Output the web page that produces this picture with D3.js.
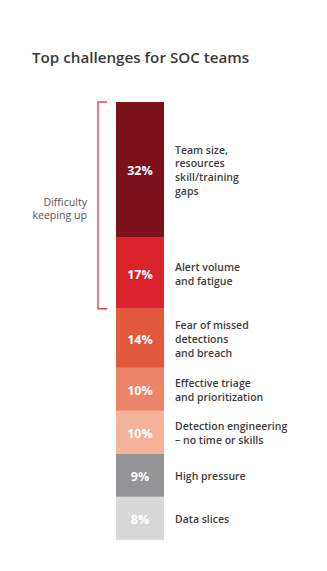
<!DOCTYPE html>
<html>
<head>
<meta charset="utf-8">
<script src="https://cdn.jsdelivr.net/npm/d3@7/dist/d3.min.js"></script>
<style>
  html, body { margin: 0; padding: 0; background: #fff; }
  svg { display: block; }
  text { font-family: "Open Sans", "Noto Sans", sans-serif; }
</style>
</head>
<body>
<svg id="chart" width="327" height="571"></svg>
<script>
// Share of respondents naming each challenge (percent)
const categories = [
  ["Team size,", "resources", "skill/training", "gaps"],
  ["Alert volume", "and fatigue"],
  ["Fear of missed", "detections", "and breach"],
  ["Effective triage", "and prioritization"],
  ["Detection engineering", "\u2013 no time or skills"],
  ["High pressure"],
  ["Data slices"]
];
const values = [32, 17, 14, 10, 10, 9, 8];
const colors = ["#7b1119", "#d9222c", "#e1583b", "#ec8567", "#f4b29a", "#959597", "#d8d8d8"];
const groupLabel = ["Difficulty", "keeping up"];
const groupSpan = [0, 1]; // first and last segment covered by the bracket
const title = "Top challenges for SOC teams";

const svg = d3.select("#chart");
const barX = 116, barW = 48, barTop = 102;
const minSeg = 43; // smallest segment keeps room for its label

// Segment length scale; tiny shares get a floor so their text fits
const len = d3.scaleLinear().domain([0, 1]).range([0, 4.22]);
const segH = values.map(v => Math.max(len(v), minSeg));
const y0 = [];
segH.reduce((acc, h, i) => { y0[i] = acc; return acc + h; }, barTop);

svg.append("text")
  .attr("x", 32).attr("y", 63)
  .attr("font-size", 15.2).attr("font-weight", 600)
  .attr("fill", "#3a3a3a")
  .text(title);

const seg = svg.append("g").selectAll("g")
  .data(values).join("g");

seg.append("rect")
  .attr("x", barX).attr("width", barW)
  .attr("y", (d, i) => y0[i])
  .attr("height", (d, i) => segH[i])
  .attr("fill", (d, i) => colors[i]);

seg.append("text")
  .attr("x", barX + barW / 2)
  .attr("y", (d, i) => y0[i] + segH[i] / 2 + 2.5)
  .attr("text-anchor", "middle")
  .attr("dominant-baseline", "middle")
  .attr("font-size", 12.5).attr("font-weight", 700)
  .attr("fill", "#fff")
  .text(d => d + "%");

const lineH = 13.8;
seg.append("text")
  .attr("font-size", 10.5).attr("font-weight", 600)
  .attr("fill", "#3d3d3d")
  .each(function(d, i) {
    const lines = categories[i];
    const cy = y0[i] + segH[i] / 2 + 2;
    d3.select(this).selectAll("tspan")
      .data(lines).join("tspan")
      .attr("x", 175)
      .attr("y", (t, j) => cy + (j - (lines.length - 1) / 2) * lineH)
      .attr("dominant-baseline", "middle")
      .text(t => t);
  });

// Bracket grouping the top segments
const bTop = y0[groupSpan[0]];
const bBot = y0[groupSpan[1]] + segH[groupSpan[1]];
const bx = 98;
svg.append("path")
  .attr("d", `M${bx + 9},${bTop} H${bx} V${bBot} H${bx + 9}`)
  .attr("fill", "none")
  .attr("stroke", "#e5474d")
  .attr("stroke-width", 1.4);

svg.append("text")
  .attr("font-size", 10.6).attr("fill", "#555")
  .attr("text-anchor", "end")
  .selectAll("tspan").data(groupLabel).join("tspan")
  .attr("x", 87)
  .attr("y", (t, j) => (bTop + bBot) / 2 + 4 + (j - 0.5) * 13.4)
  .attr("dominant-baseline", "middle")
  .text(t => t);
</script>
</body>
</html>
